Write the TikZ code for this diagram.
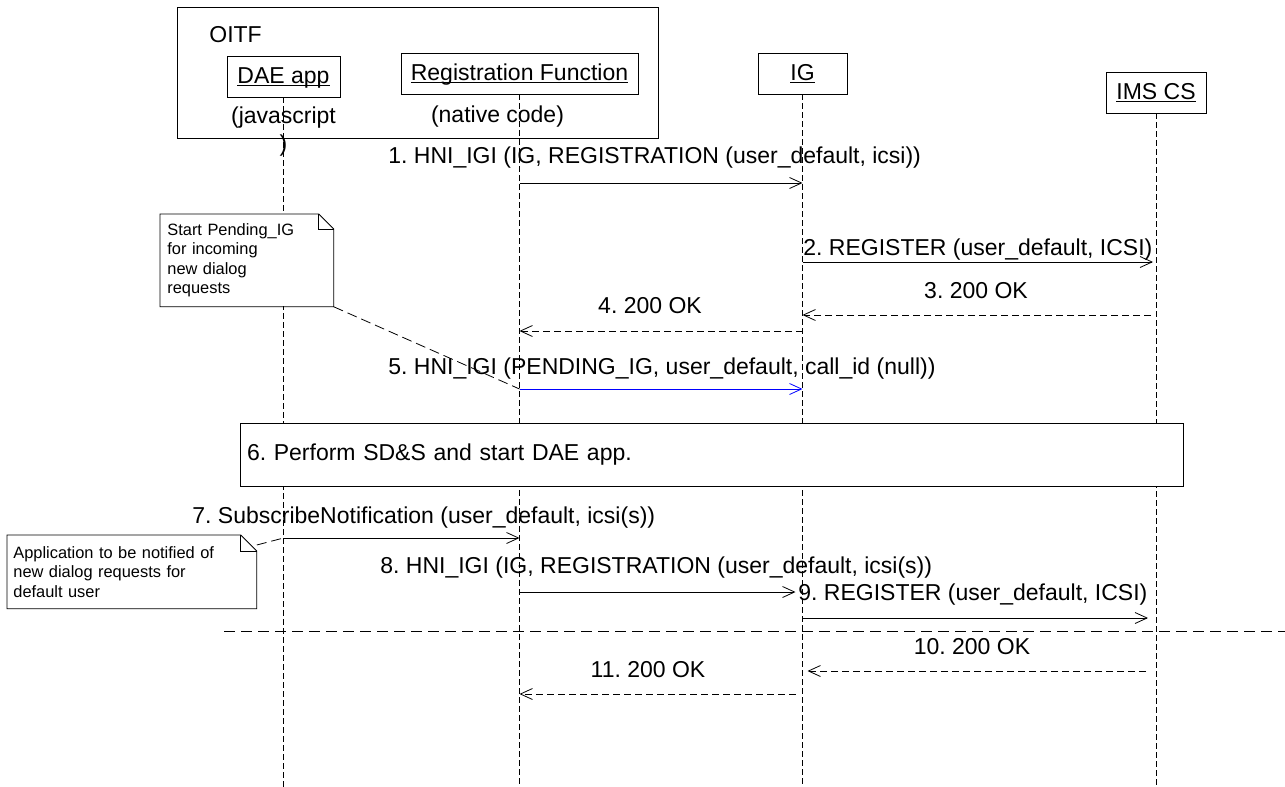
\documentclass[tikz,border=0pt]{standalone}
\usepackage{fontspec}
\setmainfont{Liberation Sans}
\frenchspacing
\usetikzlibrary{calc,arrows.meta,positioning}
\newcommand\myul[1]{\underline{\raisebox{0pt}[\height][0pt]{#1}}}

\begin{document}
\begin{tikzpicture}[x=1pt,y=-1pt,line width=0.8pt]
        \tikzset{
            mybox/.style={draw, rectangle, minimum height=41pt, inner sep=0pt,
                    font=\fontsize{23}{27}\selectfont},
            mylife/.style={dash pattern=on 6pt off 3pt},
            mymsg/.style={-{Straight Barb[length=12pt,width=11pt]}},
            myreply/.style={mymsg, dash pattern=on 7pt off 4pt},
            mylink/.style={dash pattern=on 10pt off 5pt},
            mylabel/.style={inner sep=0pt, font=\fontsize{23}{27}\selectfont},
            mynote/.style={anchor=north west, fill=white, inner xsep=7pt, inner ysep=0pt,
                    align=left, font=\fontsize{16.4}{19.5}\selectfont}
        }
        \useasboundingbox (0,0) rectangle (1285,787);
        % OITF frame
        \draw (177,7) rectangle (658,138);
        \node[mylabel, anchor=base west] (oitf) at (209,42) {OITF};
        \node[mybox, minimum width=113pt] (dae) at (283.5,76.5) {\myul{DAE app}};
        \node[mybox, minimum width=237pt] (regf) at (519.5,73.5) {\myul{Registration Function}};
        \node[mybox, minimum width=89pt] (ig) at (802.5,73.5) {\myul{IG}};
        \node[mybox, minimum width=100pt] (ims) at (1156,92.5) {\myul{IMS CS}};
        \node[mylabel, anchor=north, align=center, font=\fontsize{23}{28}\selectfont] (js) at (283.5,106) {(javascript\\)};
        \node[mylabel, anchor=base] (native) at (497.5,122) {(native code)};
        % lifelines
        \foreach \a in {dae,regf,ig,ims}
            \draw[mylife] (\a.south) -- (\a.south |- 0,787);
        \foreach \n/\y in {1/183,2/262,3/315,4/331,5/389,7/538,8/592,9/618,10/671,11/694}
            \coordinate (y\n) at (0,\y);

        \draw[mymsg] (regf |- y1) -- (ig |- y1);
        \node[mylabel, anchor=base west] (l1) at (388,163) {1. HNI\_IGI (IG, REGISTRATION (user\_default, icsi))};
        \draw[mymsg, shorten >=3pt] (ig |- y2) -- (ims |- y2);
        \node[mylabel, anchor=base west] (l2) at (803,255) {2. REGISTER (user\_default, ICSI)};
        \draw[myreply, shorten <=5pt] (ims |- y3) -- (ig |- y3);
        \node[mylabel, anchor=base] (l3) at (976,298) {3. 200 OK};
        \draw[myreply] (ig |- y4) -- (regf |- y4);
        \node[mylabel, anchor=base] (l4) at (650,313) {4. 200 OK};
        \draw[mymsg, blue] (regf |- y5) -- (ig |- y5);
        \node[mylabel, anchor=base west] (l5) at (388,374) {5. HNI\_IGI (PENDING\_IG, user\_default, call\_id (null))};

        \node[draw, fill=white, minimum width=943pt, minimum height=63pt, text width=929pt,
              inner xsep=7pt, align=left, font=\fontsize{23}{27}\selectfont] (sds) at (711.5,455)
              {6. Perform SD\&S and start DAE app.};

        \draw[mymsg] (dae |- y7) -- (regf |- y7);
        \node[mylabel, anchor=base west] (l7) at (192,523) {7. SubscribeNotification (user\_default, icsi(s))};
        \draw[mymsg, shorten >=7pt] (regf |- y8) -- (ig |- y8);
        \node[mylabel, anchor=base west] (l8) at (380,573) {8. HNI\_IGI (IG, REGISTRATION (user\_default, icsi(s))};
        \draw[mymsg, shorten >=8pt] (ig |- y9) -- (ims |- y9);
        \node[mylabel, anchor=base west] (l9) at (798,600) {9. REGISTER (user\_default, ICSI)};
        % separator
        \path (224,631) coordinate (sepl) (1285,631) coordinate (sepr);
        \draw[dash pattern=on 11pt off 6pt] (sepl) -- (sepr);
        \draw[myreply, shorten <=10pt, shorten >=5pt] (ims |- y10) -- (ig |- y10);
        \node[mylabel, anchor=base] (l10) at (972,654) {10. 200 OK};
        \draw[myreply, shorten <=7pt] (ig |- y11) -- (regf |- y11);
        \node[mylabel, anchor=base] (l11) at (648,677) {11. 200 OK};

        % notes
        \node[mynote, text width=159pt, minimum height=92pt] (note1) at (160,214)
            {Start Pending\_IG\\for incoming\\new dialog\\requests};
        \draw (note1.north west) -- ($(note1.north east)+(-15,0)$) -- ($(note1.north east)+(0,15)$)
            -- (note1.south east) -- (note1.south west) -- cycle;
        \draw ($(note1.north east)+(-15,0)$) |- ($(note1.north east)+(0,15)$);
        \draw[mylink] (note1.south east) -- (regf |- y5);

        \node[mynote, inner xsep=6pt, text width=237pt, minimum height=73pt] (note2) at (7,535)
            {Application to be notified of\\new dialog requests for\\default user};
        \draw (note2.north west) -- ($(note2.north east)+(-16,0)$) -- ($(note2.north east)+(0,16)$)
            -- (note2.south east) -- (note2.south west) -- cycle;
        \draw ($(note2.north east)+(-16,0)$) |- ($(note2.north east)+(0,16)$);
        \draw[mylink] ($(note2.north east)+(0,10)$) -- (dae |- y7);
    \end{tikzpicture}
\end{document}
